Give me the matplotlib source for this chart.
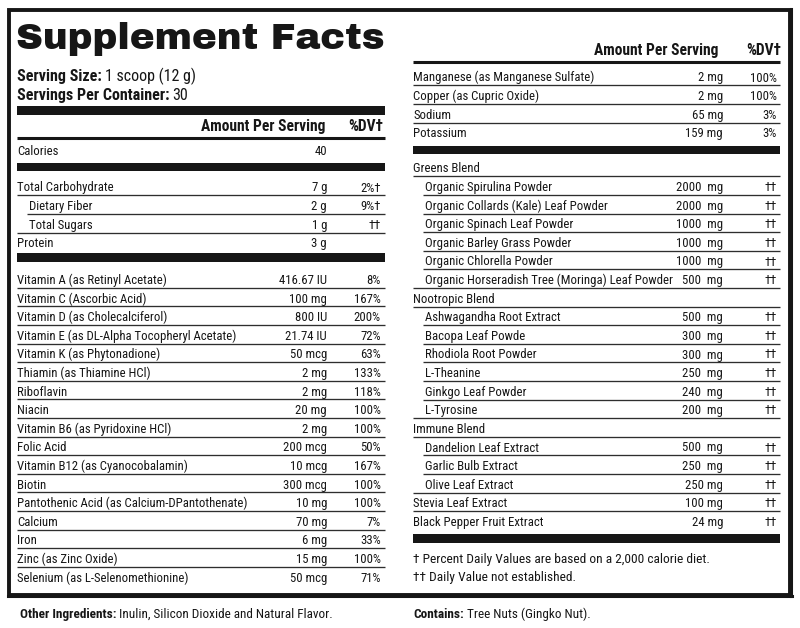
import matplotlib
matplotlib.use("Agg")
import matplotlib.pyplot as plt
from matplotlib.patches import Rectangle

# label data
title = "Supplement Facts"
serving_size = "1 scoop (12 g)"
servings_per_container = "30"
calories = "40"

top_names = ["Total Carbohydrate", "Dietary Fiber", "Total Sugars", "Protein"]
top_amounts = ["7 g", "2 g", "1 g", "3 g"]
top_dv = ["2%†", "9%†", "††", ""]
top_indent = [0, 1, 1, 0]

vitamin_names = [
    "Vitamin A (as Retinyl Acetate)", "Vitamin C (Ascorbic Acid)",
    "Vitamin D (as Cholecalciferol)", "Vitamin E (as DL-Alpha Tocopheryl Acetate)",
    "Vitamin K (as Phytonadione)", "Thiamin (as Thiamine HCl)", "Riboflavin",
    "Niacin", "Vitamin B6 (as Pyridoxine HCl)", "Folic Acid",
    "Vitamin B12 (as Cyanocobalamin)", "Biotin",
    "Pantothenic Acid (as Calcium-DPantothenate)", "Calcium", "Iron",
    "Zinc (as Zinc Oxide)", "Selenium (as L-Selenomethionine)",
]
vitamin_amounts = [
    "416.67 IU", "100 mg", "800 IU", "21.74 IU", "50 mcg", "2 mg", "2 mg",
    "20 mg", "2 mg", "200 mcg", "10 mcg", "300 mcg", "10 mg", "70 mg",
    "6 mg", "15 mg", "50 mcg",
]
vitamin_dv = [
    "8%", "167%", "200%", "72%", "63%", "133%", "118%", "100%", "100%",
    "50%", "167%", "100%", "100%", "7%", "33%", "100%", "71%",
]

mineral_names = ["Manganese (as Manganese Sulfate)", "Copper (as Cupric Oxide)",
                 "Sodium", "Potassium"]
mineral_amounts = ["2 mg", "2 mg", "65 mg", "159 mg"]
mineral_dv = ["100%", "100%", "3%", "3%"]

blend_names = [
    "Greens Blend", "Organic Spirulina Powder", "Organic Collards (Kale) Leaf Powder",
    "Organic Spinach Leaf Powder", "Organic Barley Grass Powder",
    "Organic Chlorella Powder", "Organic Horseradish Tree (Moringa) Leaf Powder",
    "Nootropic Blend", "Ashwagandha Root Extract", "Bacopa Leaf Powde",
    "Rhodiola Root Powder", "L-Theanine", "Ginkgo Leaf Powder", "L-Tyrosine",
    "Immune Blend", "Dandelion Leaf Extract", "Garlic Bulb Extract",
    "Olive Leaf Extract", "Stevia Leaf Extract", "Black Pepper Fruit Extract",
]
blend_amounts = [
    "", "2000  mg", "2000  mg", "1000  mg", "1000  mg", "1000  mg", "500  mg",
    "", "500  mg", "300  mg", "300  mg", "250  mg", "240  mg", "200  mg",
    "", "500  mg", "250  mg", "250 mg", "100 mg", "24 mg",
]
blend_dv = ["", "††", "††", "††", "††", "††", "††",
            "", "††", "††", "††", "††", "††", "††",
            "", "††", "††", "††", "††", "††"]
blend_indent = [0, 1, 1, 1, 1, 1, 1, 0, 1, 1, 1, 1, 1, 1, 0, 1, 1, 1, 0, 0]

footnotes = ["† Percent Daily Values are based on a 2,000 calorie diet.",
             "†† Daily Value not established."]
other_ingredients = "Inulin, Silicon Dioxide and Natural Flavor."
contains = "Tree Nuts (Gingko Nut)."

narrow = ["Roboto Condensed", "Archivo Narrow", "Liberation Sans", "DejaVu Sans"]
heavy = ["Archivo Black", "Roboto", "DejaVu Sans"]
ink = "#161616"
body = 9.15
step = 18.6

fig = plt.figure(figsize=(8, 6.28), dpi=100)
ax = fig.add_axes([0, 0, 1, 1])
ax.set_xlim(0, 800)
ax.set_ylim(628, 0)
ax.axis("off")
renderer = fig.canvas.get_renderer()


def txt(x, y, s, size=body, ha="left", weight="normal"):
    return ax.text(x, y, s, fontsize=size, ha=ha, va="baseline",
                   family=narrow, fontweight=weight, color=ink)


def pair(x, y, bold, rest, size):
    t = txt(x, y, bold, size, weight="bold")
    bb = t.get_window_extent(renderer)
    x2 = ax.transData.inverted().transform((bb.x1, 0))[0]
    txt(x2 + 3, y, rest, size)


def bar(x0, x1, y0, y1):
    ax.add_patch(Rectangle((x0, y0), x1 - x0, y1 - y0, color=ink, lw=0))


def rule(x0, x1, y, lw=0.95, color="#2e2e2e"):
    ax.plot([x0, x1], [y, y], color=color, lw=lw, solid_capstyle="butt")


def rows(names, amounts, dvs, indents, base, x0, x1, xin, xamt, xdv):
    n = len(names)
    for i in range(n):
        y = base + i * step
        txt(xin if indents[i] else x0, y, names[i])
        txt(xamt, y, amounts[i], ha="right")
        txt(xdv, y, dvs[i], ha="right")
        if i < n - 1:
            start = xin - 2 if (indents[i] and indents[i + 1]) else x0
            rule(start, x1, y + 3.8)


# outer border
ax.add_patch(Rectangle((8.5, 9.5), 781.5, 585, fill=False, ec=ink, lw=2.8))
ax.plot([791, 791], [9, 596], color=ink, lw=2.2)
ax.plot([8, 792], [595.5, 595.5], color=ink, lw=2.2)

# left column
L0, L1 = 17, 385
ax.text(16, 49, title, fontsize=26.8, fontweight=900, family=heavy,
        va="baseline", color=ink)
pair(L0, 81, "Serving Size:", serving_size, 11.5)
pair(L0, 100, "Servings Per Container:", servings_per_container, 11.5)
bar(L0, L1, 106, 115)
txt(325, 131, "Amount Per Serving", 11.2, ha="right", weight="bold")
txt(383, 131, "%DV†", 11.2, ha="right", weight="bold")
rule(L0, L1, 137.5, lw=2.2, color=ink)
txt(L0, 155, "Calories")
txt(327, 155, calories, ha="right")
bar(L0, L1, 163, 171)
rows(top_names, top_amounts, top_dv, top_indent, 191.5, L0, L1, 29, 327, 381)
bar(L0, L1, 253, 262)
rows(vitamin_names, vitamin_amounts, vitamin_dv, [0] * len(vitamin_names),
     284, L0, L1, 29, 327, 381)

# right column
R0, R1 = 413, 780
txt(718, 55, "Amount Per Serving", 11.2, ha="right", weight="bold")
txt(781, 55, "%DV†", 11.2, ha="right", weight="bold")
rule(R0, R1, 61.5, lw=2.2, color=ink)
rows(mineral_names, mineral_amounts, mineral_dv, [0] * 4, 81.5,
     R0, R1, 425, 723, 777)
bar(R0, R1, 145.5, 154)
rows(blend_names, blend_amounts, blend_dv, blend_indent, 172.5,
     R0, R1, 425, 723, 777)
bar(R0, R1, 534, 543)
txt(R0, 563, footnotes[0], 9.6)
txt(R0, 581.5, footnotes[1], 9.6)

# below the box
pair(20, 618, "Other Ingredients:", other_ingredients, 9.5)
pair(R0, 618, "Contains:", contains, 9.5)

fig.savefig("out.png", dpi=100, facecolor="white")
